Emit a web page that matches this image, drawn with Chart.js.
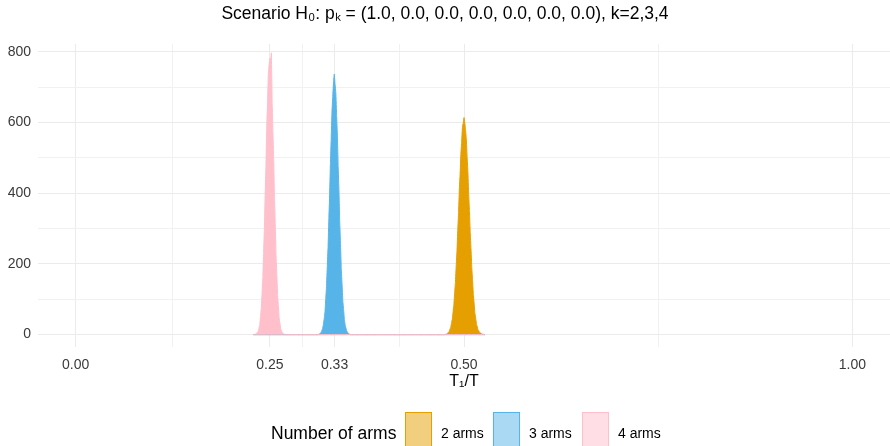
<!DOCTYPE html>
<html>
<head>
<meta charset="utf-8">
<script src="https://cdn.jsdelivr.net/npm/chart.js@4.4.0/dist/chart.umd.min.js"></script>
<style>
html, body { margin: 0; padding: 0; background: #fff; }
#wrap { position: relative; width: 890px; height: 446px; overflow: hidden; font-family: "Liberation Sans", Arial, sans-serif; }
#legend { position: absolute; left: 0; top: 412px; width: 890px; height: 42px; }
#legend .title { position: absolute; left: 271px; top: 11px; font-size: 17.5px; color: #000; }
#legend .key { position: absolute; top: 0; width: 25px; height: 40px; border: 1px solid; }
#legend .lab { position: absolute; top: 13px; font-size: 14px; color: #000; }
</style>
</head>
<body>
<div id="wrap">
  <canvas id="histChart" width="890" height="446"></canvas>
  <div id="legend"></div>
</div>
<script>
// histogram of T1/T, binwidth 0.001, counts
const binWidth = 0.001;
const arms = ['2 arms', '3 arms', '4 arms'];
const armColors = ['#E69F00', '#56B4E9', '#FFBFCB'];
const armFills = ['rgba(230,159,0,0.5)', 'rgba(86,180,233,0.5)', 'rgba(255,192,203,0.5)'];

// 2 arms, first bin at 0.475
const orangeStart = 0.475;
const orangeCounts = [0, 1, 1, 2, 4, 7, 9, 16, 21, 33, 44, 66, 86, 119, 149, 197, 238, 296, 345, 409, 455, 512, 546, 588, 598, 614,
  600, 579, 553, 503, 462, 398, 351, 289, 244, 190, 155, 114, 90, 61, 48, 30, 23, 14, 11, 6, 5, 3, 2, 1, 1, 0];

// 3 arms, first bin at 0.312
const blueStart = 0.312;
const blueCounts = [0, 1, 2, 4, 5, 12, 17, 29, 45, 64, 101, 136, 194, 249, 328, 395, 484, 553, 630, 672, 716, 737,
  709, 683, 619, 562, 474, 407, 318, 257, 186, 143, 95, 70, 42, 27, 19, 10, 7, 3, 2, 1, 0];

// 4 arms, first bin at 0.230
const pinkStart = 0.230;
const pinkCounts = [0, 1, 2, 3, 7, 9, 19, 28, 51, 74, 118, 161, 233, 301, 398, 479, 585, 652, 735, 762, 781,
  776, 797, 655, 570, 492, 386, 311, 224, 170, 111, 80, 47, 32, 16, 11, 5, 4, 1, 1, 0];

// shared bin range of all groups (empty bins still get an outline)
const binRange = [0.229, 0.527];

const xTicks = [0, 0.125, 0.25, 7 / 24, 1 / 3, 5 / 12, 0.5, 0.75, 1];
const xMajor = [0, 0.25, 1 / 3, 0.5, 1];
const xTickLabels = ['0.00', '0.25', '0.33', '0.50', '1.00'];
const yTicks = [0, 100, 200, 300, 400, 500, 600, 700, 800];
const yTickLabels = ['0', '', '200', '', '400', '', '600', '', '800'];

function toPoints(start, counts) {
    const pts = [{x: binRange[0], y: 0}];
    counts.forEach(function(c, i) {
        pts.push({x: start + i * binWidth, y: c});
    });
    pts.push({x: binRange[1], y: 0});
    return pts;
}

function majorIndex(v) {
    return xMajor.findIndex(function(m) { return Math.abs(m - v) < 1e-6; });
}

const series = [
    {label: arms[0], data: toPoints(orangeStart, orangeCounts), color: armColors[0], order: 3},
    {label: arms[1], data: toPoints(blueStart, blueCounts), color: armColors[1], order: 2},
    {label: arms[2], data: toPoints(pinkStart, pinkCounts), color: armColors[2], order: 1}
];

const ctx = document.getElementById('histChart').getContext('2d');
const histChart = new Chart(ctx, {
    type: 'line',
    data: {
        datasets: series.map(function(s) {
            return {
                label: s.label,
                data: s.data,
                borderColor: s.color,
                backgroundColor: s.color,
                borderWidth: 1,
                pointRadius: 0,
                tension: 0.001, // tiny tension: avoids the per-pixel fast path that leaves gaps in the fill
                fill: 'origin',
                order: s.order
            };
        })
    },
    options: {
        responsive: false,
        animation: false,
        layout: {padding: {left: 0, right: 0, top: 0, bottom: 55}},
        plugins: {
            legend: {display: false},
            tooltip: {enabled: false},
            title: {
                display: true,
                text: 'Scenario H\u2080: p\u2096 = (1.0, 0.0, 0.0, 0.0, 0.0, 0.0, 0.0), k=2,3,4',
                color: '#000',
                font: {family: '"Liberation Sans", Arial, sans-serif', size: 17.5, weight: 'normal'},
                padding: {top: 4, bottom: 19}
            }
        },
        scales: {
            x: {
                type: 'linear',
                min: -0.0485,
                max: 1.0485,
                afterBuildTicks: function(scale) {
                    scale.ticks = xTicks.map(function(v) { return {value: v}; });
                },
                afterFit: function(scale) { scale.height = 44; },
                ticks: {
                    autoSkip: false,
                    maxRotation: 0,
                    padding: 10,
                    color: '#3A3A3A',
                    font: {family: '"Liberation Sans", Arial, sans-serif', size: 14},
                    callback: function(v) {
                        const i = majorIndex(v);
                        return i >= 0 ? xTickLabels[i] : '';
                    }
                },
                grid: {
                    drawTicks: false,
                    color: function(c) { return majorIndex(c.tick.value) >= 0 ? '#EBEBEB' : '#F1F1F1'; },
                    lineWidth: 1
                },
                border: {display: false},
                title: {
                    display: true,
                    text: 'T\u2081/T',
                    color: '#000',
                    font: {family: '"Liberation Sans", Arial, sans-serif', size: 16},
                    padding: {top: 0, bottom: 0}
                }
            },
            y: {
                min: -35,
                max: 822,
                afterBuildTicks: function(scale) {
                    scale.ticks = yTicks.map(function(v) { return {value: v}; });
                },
                afterFit: function(scale) { scale.width = 38; },
                ticks: {
                    padding: 7,
                    color: '#3A3A3A',
                    font: {family: '"Liberation Sans", Arial, sans-serif', size: 14},
                    callback: function(v) {
                        const i = yTicks.indexOf(v);
                        return i >= 0 ? yTickLabels[i] : '';
                    }
                },
                grid: {
                    drawTicks: false,
                    color: function(c) { return c.tick.value % 200 === 0 ? '#EBEBEB' : '#F1F1F1'; },
                    lineWidth: 1
                },
                border: {display: false}
            }
        }
    }
});

// legend at the bottom
const legend = document.getElementById('legend');
const keyLeft = [405, 493, 582];
const labLeft = [441, 529, 618];
let html = '<span class="title">Number of arms</span>';
arms.forEach(function(a, i) {
    html += '<span class="key" style="left:' + keyLeft[i] + 'px;border-color:' + armColors[i] +
        ';background:' + armFills[i] + '"></span>';
    html += '<span class="lab" style="left:' + labLeft[i] + 'px">' + a + '</span>';
});
legend.innerHTML = html;
</script>
</body>
</html>
